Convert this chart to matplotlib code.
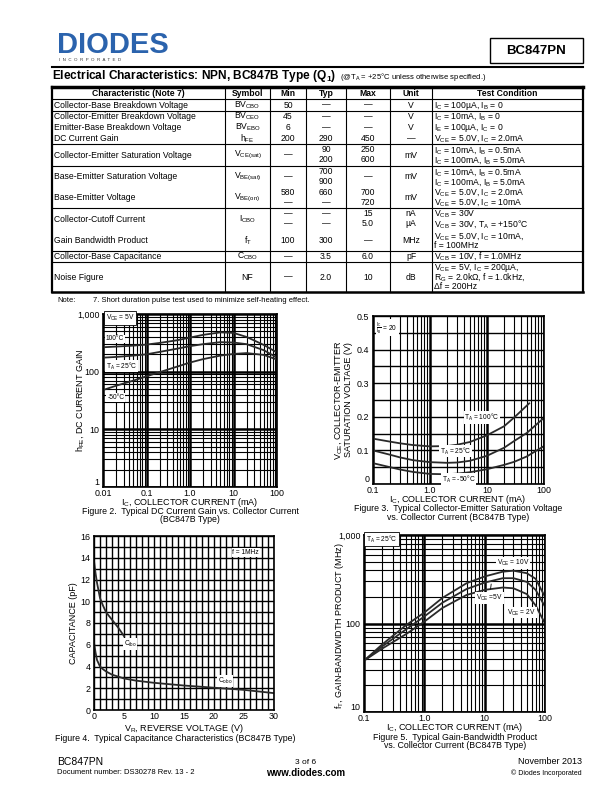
import numpy as np
import matplotlib
matplotlib.use("Agg")
import matplotlib.pyplot as plt
from matplotlib.lines import Line2D
from matplotlib.ticker import LogLocator, MultipleLocator, NullFormatter

plt.rcParams["font.family"] = ["Liberation Sans", "DejaVu Sans"]
plt.rcParams["mathtext.default"] = "regular"

# ---- table data ----
col_heads = ["Characteristic (Note 7)", "Symbol", "Min", "Typ", "Max", "Unit", "Test Condition"]
characteristics = ["Collector-Base Breakdown Voltage", "Collector-Emitter Breakdown Voltage",
                   "Emitter-Base Breakdown Voltage", "DC Current Gain",
                   "Collector-Emitter Saturation Voltage", "Base-Emitter Saturation Voltage",
                   "Base-Emitter Voltage", "Collector-Cutoff Current", "Gain Bandwidth Product",
                   "Collector-Base Capacitance", "Noise Figure"]
symbols = ["BV$_{CBO}$", "BV$_{CEO}$", "BV$_{EBO}$", "h$_{FE}$", "V$_{CE(sat)}$", "V$_{BE(sat)}$",
           "V$_{BE(on)}$", "I$_{CBO}$", "f$_T$", "C$_{CBO}$", "NF"]
mins = ["50", "45", "6", "200", "—", "—", "580\n—", "—\n—", "100", "—", "—"]
typs = ["—", "—", "—", "290", "90\n200", "700\n900", "660\n—", "—\n—", "300", "3.5", "2.0"]
maxs = ["—", "—", "—", "450", "250\n600", "—", "700\n720", "15\n5.0", "—", "6.0", "10"]
units = ["V", "V", "V", "—", "mV", "mV", "mV", "nA\nµA", "MHz", "pF", "dB"]
conditions = ["I$_C$ = 100µA, I$_B$ = 0",
              "I$_C$ = 10mA, I$_B$ = 0",
              "I$_E$ = 100µA, I$_C$ = 0",
              "V$_{CE}$ = 5.0V, I$_C$ = 2.0mA",
              "I$_C$ = 10mA, I$_B$ = 0.5mA\nI$_C$ = 100mA, I$_B$ = 5.0mA",
              "I$_C$ = 10mA, I$_B$ = 0.5mA\nI$_C$ = 100mA, I$_B$ = 5.0mA",
              "V$_{CE}$ = 5.0V, I$_C$ = 2.0mA\nV$_{CE}$ = 5.0V, I$_C$ = 10mA",
              "V$_{CB}$ = 30V\nV$_{CB}$ = 30V, T$_A$ = +150°C",
              "V$_{CE}$ = 5.0V, I$_C$ = 10mA,\nf = 100MHz",
              "V$_{CB}$ = 10V, f = 1.0MHz",
              "V$_{CE}$ = 5V, I$_C$ = 200µA,\nR$_G$ = 2.0kΩ, f = 1.0kHz,\nΔf = 200Hz"]

# ---- Figure 2: DC current gain ----
ic_hfe = [0.01, 0.02, 0.05, 0.1, 0.2, 0.5, 1, 2, 5, 10, 20, 50, 100]
hfe_100c = [265, 272, 283, 295, 315, 350, 390, 435, 480, 470, 400, 290, 215]
hfe_25c = [175, 180, 190, 200, 220, 250, 277, 300, 325, 320, 300, 235, 175]
hfe_m50c = [48, 57, 70, 83, 98, 122, 144, 165, 190, 203, 210, 195, 162]

# ---- Figure 3: VCE(sat) ----
ic_sat = [0.1, 0.2, 0.3, 0.5, 1, 2, 3, 5, 10, 20, 30, 50, 100]
ic_sat_hot = [0.1, 0.2, 0.3, 0.5, 1, 2, 3, 5, 10, 20, 30, 55]
vce_100c = [0.135, 0.126, 0.121, 0.116, 0.112, 0.113, 0.117, 0.125, 0.145, 0.172, 0.198, 0.24]
vce_25c = [0.100, 0.087, 0.079, 0.071, 0.065, 0.063, 0.064, 0.069, 0.084, 0.108, 0.128, 0.152, 0.197]
vce_m50c = [0.062, 0.050, 0.043, 0.036, 0.030, 0.029, 0.031, 0.035, 0.044, 0.057, 0.066, 0.082, 0.113]

# ---- Figure 4: capacitance ----
vr_ibo = [0, 0.25, 0.5, 1, 1.5, 2, 3, 4, 5]
c_ibo = [13.7, 12.6, 11.7, 10.3, 9.6, 9.0, 8.3, 7.6, 6.8]
vr_obo = [0, 0.25, 0.5, 1, 1.5, 2, 3, 5, 7, 10, 15, 20, 25, 30]
c_obo = [6.2, 5.3, 4.6, 4.0, 3.75, 3.55, 3.25, 2.9, 2.7, 2.5, 2.25, 2.05, 1.85, 1.55]

# ---- Figure 5: gain-bandwidth ----
ic_ft = [0.1, 0.2, 0.5, 1, 2, 5, 10, 20, 30, 50, 70, 100]
ft_10v = [38, 58, 96, 133, 195, 285, 340, 385, 395, 370, 320, 200]
ft_5v = [38, 55, 86, 120, 172, 245, 290, 325, 325, 295, 240, 155]
ft_2v = [38, 52, 76, 105, 150, 210, 240, 255, 250, 215, 160, 100]

W, H = 612, 792
fig = plt.figure(figsize=(W / 100, H / 100), dpi=100)
CURVE = "#2a2a2a"


def put(x, y, s, size=6.5, ha="left", va="center", **kw):
    return fig.text(x / W, 1 - y / H, s, fontsize=size, ha=ha, va=va, **kw)


def put_lines(x, yc, s, step, **kw):
    # place each line of a cell by hand so mathtext lines keep an even pitch
    parts = s.split("\n")
    for i, p in enumerate(parts):
        put(x, yc + (i - (len(parts) - 1) / 2) * step, p, **kw)


def line(x0, y0, x1, y1, lw=0.8, color="k"):
    fig.add_artist(Line2D([x0 / W, x1 / W], [1 - y0 / H, 1 - y1 / H], color=color, lw=lw))


def axes_px(l, t, r, b):
    return fig.add_axes([l / W, 1 - b / H, (r - l) / W, (b - t) / H])


# ---- page header ----
put(57, 45, "DIODES", size=21, weight="heavy", color="#2b63ad")
put(59, 60, "I  N  C  O  R  P  O  R  A  T  E  D", size=3.2, color="#333333")
fig.add_artist(plt.Rectangle((490 / W, 1 - 63 / H), 93 / W, 25 / H, fill=False, lw=1.0, ec="k"))
put(536, 50.5, "BC847PN", size=9.5, ha="center", weight="bold")
line(52, 67, 583, 67, lw=1.5)
t = put(52, 76.5, "Electrical Characteristics: NPN, BC847B Type (Q$_1$)", size=8.6, weight="bold")
bb = t.get_window_extent(fig.canvas.get_renderer())
put(bb.x1 + 4, 77, "(@T$_A$ = +25°C unless otherwise specified.)", size=5.5)
line(52, 87, 583, 87, lw=2.5)

# ---- table ----
col_x = [52, 225, 270, 306, 346, 390, 432, 583]
row_edges = [88, 99, 111, 122, 133, 144, 166, 187, 208, 230, 251, 262, 292]
for x in col_x[1:-1]:
    line(x, 87, x, 292, lw=0.8)
line(52, 87, 52, 292, lw=1.6)
line(583, 87, 583, 292, lw=1.6)
for y in [99, 111, 144, 166, 208, 251, 262]:
    line(52, y, 583, y, lw=0.8)
line(52, 292, 583, 292, lw=1.8)

ymid = (row_edges[0] + row_edges[1]) / 2
for i, head in enumerate(col_heads):
    put((col_x[i] + col_x[i + 1]) / 2, ymid, head, size=6.2, ha="center", weight="bold")

columns = [symbols, mins, typs, maxs, units]
for k in range(len(characteristics)):
    yc = (row_edges[k + 1] + row_edges[k + 2]) / 2
    put(54, yc, characteristics[k], size=6.2)
    for j, col in enumerate(columns):
        put_lines((col_x[j + 1] + col_x[j + 2]) / 2, yc, col[k], 10, size=6.2, ha="center")
    step = 9 if conditions[k].count("\n") > 1 else 10
    put_lines(434, yc, conditions[k], step, size=6.2)

put(57, 300, "Note:", size=5.5)
put(93, 300, "7. Short duration pulse test used to minimize self-heating effect.", size=5.5)


# ---- chart helpers ----
def style(ax):
    ax.tick_params(which="both", length=0, labelsize=6.4)
    ax.tick_params(axis="x", pad=1.5)
    ax.tick_params(axis="y", pad=2.5)
    for s in ax.spines.values():
        s.set_linewidth(1.2)
    ax.set_axisbelow(True)
    # lift the lowest y label a little so it clears the first x label
    ax.get_yticklabels()[0].set_va("bottom")


def log_grid(ax, axis):
    get = ax.xaxis if axis == "x" else ax.yaxis
    get.set_major_locator(LogLocator(base=10, numticks=20))
    get.set_minor_locator(LogLocator(base=10, subs=np.arange(2, 10), numticks=50))
    get.set_minor_formatter(NullFormatter())
    ax.grid(True, axis=axis, which="major", color="k", lw=1.8)
    ax.grid(True, axis=axis, which="minor", color="k", lw=0.8)


box = dict(facecolor="white", edgecolor="none", pad=0.6)
boxed = dict(facecolor="white", edgecolor="k", lw=0.6, pad=1.2)
LAB = 6.5
CAP = 6.3

# Figure 2
ax2 = axes_px(103, 314, 277, 487)
ax2.set_xscale("log")
ax2.set_yscale("log")
ax2.set_xlim(0.01, 100)
ax2.set_ylim(1, 1000)
log_grid(ax2, "x")
log_grid(ax2, "y")
ax2.plot(ic_hfe, hfe_100c, color=CURVE, lw=1.3)
ax2.plot(ic_hfe, hfe_25c, color=CURVE, lw=1.3)
ax2.plot(ic_hfe, hfe_m50c, color=CURVE, lw=1.3)
ax2.set_xticks([0.01, 0.1, 1, 10, 100])
ax2.set_xticklabels(["0.01", "0.1", "1.0", "10", "100"])
ax2.set_yticks([1, 10, 100, 1000])
ax2.set_yticklabels(["1", "10", "100", "1,000"])
ax2.text(0.0115, 850, "V$_{CE}$ = 5V", fontsize=4.8, va="center", bbox=boxed)
ax2.text(0.0115, 370, "100°C", fontsize=4.8, va="center", bbox=box)
ax2.text(0.0115, 125, "T$_A$ = 25°C", fontsize=4.8, va="center", bbox=box)
ax2.text(0.0125, 36, "-50°C", fontsize=4.8, va="center", bbox=box)
style(ax2)
put(190, 503, "I$_C$, COLLECTOR CURRENT (mA)", size=LAB, ha="center")
put(80, 400, "h$_{FE}$, DC CURRENT GAIN", size=LAB, ha="center", rotation=90)
put(190, 511, "Figure 2.  Typical DC Current Gain vs. Collector Current", size=CAP, ha="center")
put(190, 519.5, "(BC847B Type)", size=CAP, ha="center")

# Figure 3
ax3 = axes_px(373, 316, 544, 484)
ax3.set_xscale("log")
ax3.set_xlim(0.1, 100)
ax3.set_ylim(0, 0.5)
log_grid(ax3, "x")
ax3.yaxis.set_major_locator(MultipleLocator(0.1))
ax3.yaxis.set_minor_locator(MultipleLocator(0.05))
ax3.grid(True, axis="y", which="both", color="k", lw=1.0)
ax3.plot(ic_sat_hot, vce_100c, color=CURVE, lw=1.3)
ax3.plot(ic_sat, vce_25c, color=CURVE, lw=1.3)
ax3.plot(ic_sat, vce_m50c, color=CURVE, lw=1.3)
ax3.set_xticks([0.1, 1, 10, 100])
ax3.set_xticklabels(["0.1", "1.0", "10", "100"])
ax3.set_yticks([0, 0.1, 0.2, 0.3, 0.4, 0.5])
ax3.set_yticklabels(["0", "0.1", "0.2", "0.3", "0.4", "0.5"])
ax3.text(0.115, 0.465, r"$\frac{I_C}{I_B}$ = 20", fontsize=4.8, va="center", bbox=box)
ax3.text(8.2, 0.197, "T$_A$ = 100°C", fontsize=4.8, ha="center", va="center", bbox=box)
ax3.text(2.85, 0.098, "T$_A$ = 25°C", fontsize=4.8, ha="center", va="center", bbox=box)
ax3.text(3.2, 0.015, "T$_A$ = -50°C", fontsize=4.8, ha="center", va="center", bbox=box)
style(ax3)
put(458, 500, "I$_C$, COLLECTOR CURRENT (mA)", size=LAB, ha="center")
put(339, 400, "V$_{CE}$, COLLECTOR-EMITTER", size=LAB, ha="center", rotation=90)
put(348.5, 400, "SATURATION VOLTAGE (V)", size=LAB, ha="center", rotation=90)
put(458, 508.5, "Figure 3.  Typical Collector-Emitter Saturation Voltage", size=CAP, ha="center")
put(458, 517, "vs. Collector Current (BC847B Type)", size=CAP, ha="center")

# Figure 4
ax4 = axes_px(94, 536, 274, 710)
ax4.set_xlim(0, 30)
ax4.set_ylim(0, 16)
ax4.xaxis.set_major_locator(MultipleLocator(5))
ax4.xaxis.set_minor_locator(MultipleLocator(1))
ax4.yaxis.set_major_locator(MultipleLocator(2))
ax4.yaxis.set_minor_locator(MultipleLocator(1))
ax4.grid(True, which="both", color="k", lw=1.0)
ax4.plot(vr_ibo, c_ibo, color=CURVE, lw=1.3)
ax4.plot(vr_obo, c_obo, color=CURVE, lw=1.3)
ax4.text(6.0, 6.1, "C$_{ibo}$", fontsize=4.8, ha="center", va="center", bbox=box)
ax4.text(21.8, 2.65, "C$_{obo}$", fontsize=4.8, ha="center", va="center", bbox=box)
ax4.text(25.3, 14.5, "f = 1MHz", fontsize=4.8, ha="center", va="center", bbox=box)
style(ax4)
put(184, 728.5, "V$_R$, REVERSE VOLTAGE (V)", size=LAB, ha="center")
put(74, 623, "CAPACITANCE (pF)", size=LAB, ha="center", rotation=90)
put(175, 738.5, "Figure 4.  Typical Capacitance Characteristics (BC847B Type)", size=CAP, ha="center")

# Figure 5
ax5 = axes_px(364, 535, 545, 712)
ax5.set_xscale("log")
ax5.set_yscale("log")
ax5.set_xlim(0.1, 100)
ax5.set_ylim(10, 1000)
log_grid(ax5, "x")
log_grid(ax5, "y")
ax5.plot(ic_ft, ft_10v, color=CURVE, lw=1.3)
ax5.plot(ic_ft, ft_5v, color=CURVE, lw=1.3)
ax5.plot(ic_ft, ft_2v, color=CURVE, lw=1.3)
ax5.set_xticks([0.1, 1, 10, 100])
ax5.set_xticklabels(["0.1", "1.0", "10", "100"])
ax5.set_yticks([10, 100, 1000])
ax5.set_yticklabels(["10", "100", "1,000"])
ax5.text(0.108, 900, "T$_A$ = 25°C", fontsize=4.8, va="center", bbox=boxed)
ax5.text(30, 478, "V$_{CE}$ = 10V", fontsize=4.8, ha="center", va="center", bbox=box)
ax5.annotate("V$_{CE}$ =5V", xy=(13, 300), xytext=(12, 195), fontsize=4.8, ha="center",
             va="center", bbox=box, arrowprops=dict(arrowstyle="-", color="k", lw=0.6))
ax5.text(41, 133, "V$_{CE}$ = 2V", fontsize=4.8, ha="center", va="center", bbox=box)
style(ax5)
put(455, 728, "I$_C$, COLLECTOR CURRENT (mA)", size=LAB, ha="center")
put(339, 626, "f$_T$, GAIN-BANDWIDTH PRODUCT (MHz)", size=LAB, ha="center", rotation=90)
put(455, 737, "Figure 5.  Typical Gain-Bandwidth Product", size=CAP, ha="center")
put(455, 745.5, "vs. Collector Current (BC847B Type)", size=CAP, ha="center")

# ---- footer ----
put(57, 762, "BC847PN", size=7.5)
put(57, 773, "Document number: DS30278 Rev. 13 - 2", size=5.5)
put(306, 762, "3 of 6", size=6, ha="center")
put(306, 773, "www.diodes.com", size=7, ha="center", weight="bold")
put(582, 762, "November 2013", size=6.5, ha="right")
put(582, 773, "© Diodes Incorporated", size=5, ha="right")

fig.savefig("out.png", dpi=100)
